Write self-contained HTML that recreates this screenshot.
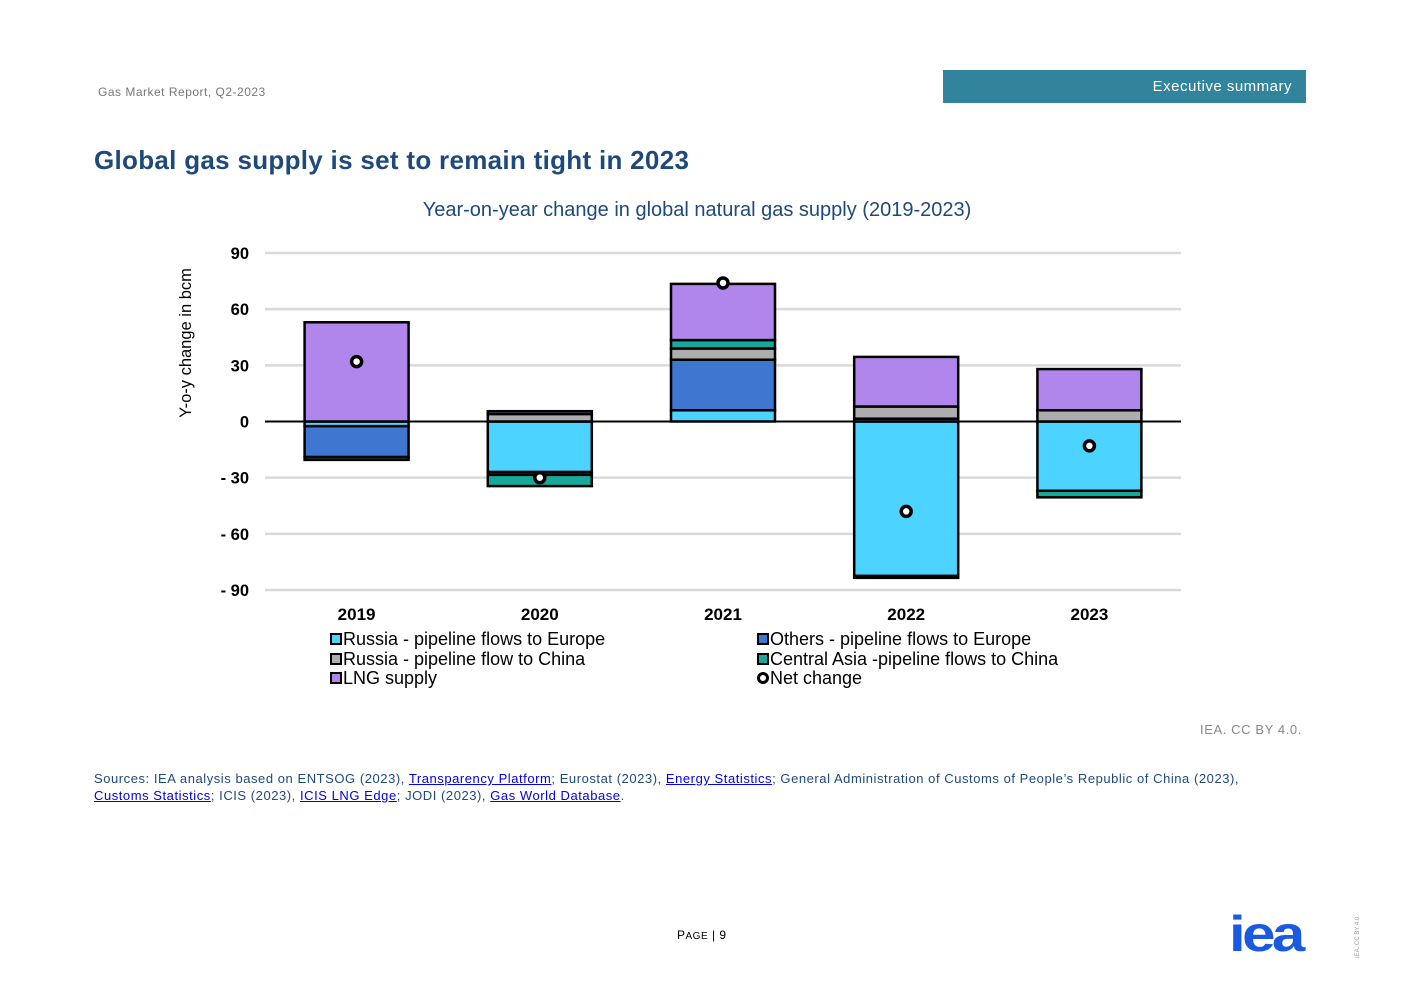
<!DOCTYPE html>
<html><head><meta charset="utf-8">
<style>
body{margin:0;width:1403px;height:992px;background:#fff;position:relative;font-family:"Liberation Sans",sans-serif;overflow:hidden}
.abs{position:absolute}
a{color:#0000ee}
</style></head><body>
<div class="abs" style="left:98px;top:85px;font-size:12px;color:#777;letter-spacing:0.5px">Gas Market Report, Q2-2023</div>
<div class="abs" style="left:943px;top:70px;width:363px;height:33px;background:#31849b;color:#fff;font-size:15px;line-height:33px;text-align:right;box-sizing:border-box;padding-right:14px;letter-spacing:0.5px">Executive summary</div>
<div class="abs" style="left:94px;top:145px;font-size:26px;font-weight:bold;color:#1f497d;letter-spacing:0.3px">Global gas supply is set to remain tight in 2023</div>
<svg class="abs" style="left:0;top:0" width="1403" height="992" id="chart">
<text x="697" y="216" text-anchor="middle" font-size="20" fill="#1f497d">Year-on-year change in global natural gas supply (2019-2023)</text>
<text transform="translate(191,343) rotate(-90)" text-anchor="middle" font-size="16.5" fill="#000">Y-o-y change in bcm</text>
<g id="grid"></g><g id="bars"></g><g id="pts"></g>
</svg>
<div class="abs" style="left:330px;top:630px;width:760px;font-size:18px;line-height:19.5px;color:#000">
<div class="abs" style="left:0;top:0;white-space:nowrap"><span style="display:inline-block;width:8px;height:8px;border:2px solid #000;background:#4cd3ff;margin-right:1px"></span>Russia - pipeline flows to Europe</div>
<div class="abs" style="left:0;top:20px;white-space:nowrap"><span style="display:inline-block;width:8px;height:8px;border:2px solid #000;background:#adadad;margin-right:1px"></span>Russia - pipeline flow to China</div>
<div class="abs" style="left:0;top:39px;white-space:nowrap"><span style="display:inline-block;width:8px;height:8px;border:2px solid #000;background:#b085ec;margin-right:1px"></span>LNG supply</div>
<div class="abs" style="left:427px;top:0;white-space:nowrap"><span style="display:inline-block;width:8px;height:8px;border:2px solid #000;background:#3f76d0;margin-right:1px"></span>Others - pipeline flows to Europe</div>
<div class="abs" style="left:427px;top:20px;white-space:nowrap"><span style="display:inline-block;width:8px;height:8px;border:2px solid #000;background:#17a89a;margin-right:1px"></span>Central Asia -pipeline flows to China</div>
<div class="abs" style="left:427px;top:39px;white-space:nowrap"><span style="display:inline-block;width:6px;height:6px;border:3px solid #000;border-radius:50%;background:#fff;margin-right:1px"></span>Net change</div>
</div>
<div class="abs" style="left:1200px;top:722px;font-size:13px;color:#888;letter-spacing:0.6px">IEA. CC BY 4.0.</div>
<div class="abs" style="left:94px;top:770px;width:1220px;font-size:13px;line-height:17px;color:#1f497d;letter-spacing:0.55px">Sources: IEA analysis based on ENTSOG (2023), <a href="#">Transparency Platform</a>; Eurostat (2023), <a href="#">Energy Statistics</a>; General Administration of Customs of People’s Republic of China (2023), <a href="#" style="white-space:nowrap">Customs Statistics</a>; ICIS (2023), <a href="#">ICIS LNG Edge</a>; JODI (2023), <a href="#">Gas World Database</a>.</div>
<div class="abs" style="left:677px;top:928px;font-size:12px;color:#000;letter-spacing:0.5px">P<span style="font-size:10px">AGE</span> | 9</div>
<div class="abs" style="left:1229px;top:907px;font-size:50px;font-weight:bold;color:#1a5ae0;letter-spacing:-3px;line-height:54px;transform:scaleX(1.2);transform-origin:0 0">iea</div>
<div class="abs" style="left:1355px;top:958px;font-size:6px;color:#999;transform:rotate(-90deg);transform-origin:0 0;white-space:nowrap">IEA. CC BY 4.0.</div>
<script>
const categories=["2019","2020","2021","2022","2023"];
const russiaEurope=[-2.5,-27,6,-82.5,-37];
const othersEurope=[-16.5,-1.5,27,1.5,0];
const russiaChina=[0,4,6,6.5,6];
const centralAsia=[-1.5,-6,4.5,-1,-3.5];
const lng=[53,1.5,30,26.5,22];
const netChange=[32,-30,74,-48,-13];
const yTicks=[90,60,30,0,-30,-60,-90];
const yTickLabels=["90","60","30","0","- 30","- 60","- 90"];
const series=[russiaEurope,othersEurope,russiaChina,centralAsia,lng];
const colors=["#4cd3ff","#3f76d0","#adadad","#17a89a","#b085ec"];
const segNames=["russia-europe","others-europe","russia-china","central-asia","lng"];
const NS="http://www.w3.org/2000/svg";
const x0=265,x1=1181,yTop=253,yBot=590;
function y(v){return yTop+(90-v)/180*(yBot-yTop);}
function xc(i){return x0+(x1-x0)/categories.length*(i+0.5);}
const bw=104;
function mk(tag,attrs,parent){const e=document.createElementNS(NS,tag);for(const k in attrs)e.setAttribute(k,attrs[k]);parent.appendChild(e);return e;}
const grid=document.getElementById('grid'),bars=document.getElementById('bars'),pts=document.getElementById('pts');
yTicks.forEach((t,i)=>{
 if(t!==0){const l=mk('line',{x1:x0,x2:x1,y1:y(t),y2:y(t),stroke:'#d9d9d9','stroke-width':2.5},grid);
 
 }
 const tx=mk('text',{x:249,y:y(t)+6,'text-anchor':'end','font-size':16.5,'font-weight':'bold'},grid);
 tx.textContent=yTickLabels[i];
 
 
});
categories.forEach((c,i)=>{
 let pos=0,neg=0;const cx=xc(i);
 series.forEach((s,k)=>{
  const v=s[i];if(v===0)return;
  let a,b;if(v>0){a=pos;b=pos+v;pos=b;}else{a=neg;b=neg+v;neg=b;}
  const r=mk('rect',{x:cx-bw/2,y:Math.min(y(a),y(b)),width:bw,height:Math.abs(y(a)-y(b)),fill:colors[k],stroke:'#000','stroke-width':2.5},bars);
  
  
 });
 const tx=mk('text',{x:cx,y:620,'text-anchor':'middle','font-size':17,'font-weight':'bold'},grid);
 tx.textContent=c;
 
 
 const p=mk('circle',{cx:cx,cy:y(netChange[i]),r:5,fill:'#fff',stroke:'#000','stroke-width':3.5},pts);
 
 
});
const z=mk('line',{x1:x0,x2:x1,y1:y(0),y2:y(0),stroke:'#000','stroke-width':2},bars);


</script>
</body></html>
